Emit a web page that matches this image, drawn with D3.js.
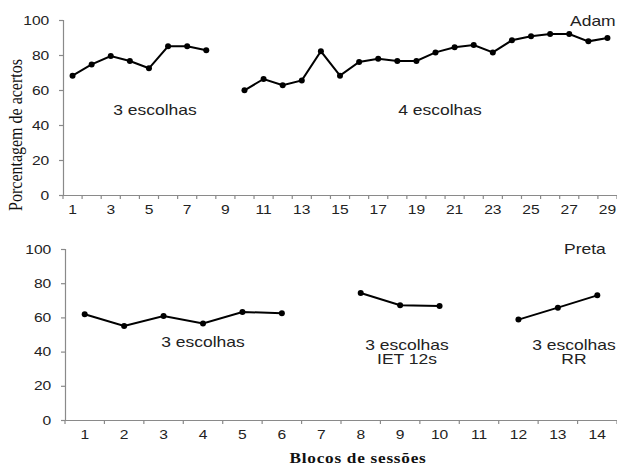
<!DOCTYPE html>
<html><head><meta charset="utf-8">
<script src="https://cdn.jsdelivr.net/npm/d3@7"></script>
<style>body{margin:0;background:#fff}svg{display:block}</style>
</head><body>
<script>
// Top panel (Adam)
const adamBlocks = d3.range(1, 30);
const adamSeg1 = [[1,68.2],[2,74.6],[3,79.4],[4,76.6],[5,72.4],[6,85],[7,85],[8,82.7]];
const adamSeg2 = [[10,59.8],[11,66.3],[12,62.7],[13,65.5],[14,82.1],[15,68.2],[16,76],[17,77.9],[18,76.6],[19,76.6],[20,81.5],[21,84.4],[22,85.7],[23,81.5],[24,88.4],[25,90.7],[26,92],[27,92],[28,87.8],[29,89.7]];
const adamTickLabels = [1,3,5,7,9,11,13,15,17,19,21,23,25,27,29];
// Bottom panel (Preta)
const pretaBlocks = d3.range(1, 15);
const pretaSeg1 = [[1,61.8],[2,55],[3,60.8],[4,56.5],[5,63.2],[6,62.4]];
const pretaSeg2 = [[8,74.3],[9,67.1],[10,66.7]];
const pretaSeg3 = [[12,58.7],[13,65.7],[14,72.9]];
const yTicks = [0,20,40,60,80,100];

const W = 617, H = 466;
const SX = 1.25; // horizontal stretch of the source text
const SANS = "Liberation Sans, Arial, sans-serif";
const svg = d3.select("body").append("svg").attr("width", W).attr("height", H);

function panel(opts){
  const x = d3.scaleBand().domain(opts.blocks).range([opts.x0, opts.x1]).paddingInner(0).paddingOuter(0);
  const y = d3.scaleLinear().domain([0,100]).range([opts.yb, opts.yt]);
  const g = svg.append("g");
  // x axis
  const xa = g.append("g").attr("transform", `translate(0,${opts.yb})`)
    .call(d3.axisBottom(x).tickSize(0).tickPadding(6).tickFormat(d => opts.labels.includes(d) ? d : ""));
  xa.select(".domain").attr("stroke", "#8a8a8a").attr("stroke-width", 1.2);
  xa.selectAll("text").attr("font-family", SANS).attr("font-size", 12.5).attr("fill", "#222")
    .attr("dy", "1.05em").attr("transform", `scale(${SX},1)`);
  // band boundary ticks
  const bounds = opts.blocks.map(b => x(b)).concat([opts.x1]);
  g.selectAll(".bt").data(bounds).join("line")
    .attr("x1", d => d).attr("x2", d => d).attr("y1", opts.yb).attr("y2", opts.yb + 4)
    .attr("stroke", "#8a8a8a").attr("stroke-width", 1.2);
  // y axis
  const ya = g.append("g").attr("transform", `translate(${opts.x0},0)`)
    .call(d3.axisLeft(y).tickValues(yTicks).tickSize(4).tickPadding(7));
  ya.select(".domain").attr("stroke", "#8a8a8a").attr("stroke-width", 1.2);
  ya.selectAll("line").attr("stroke", "#8a8a8a").attr("stroke-width", 1.2);
  ya.selectAll("text").attr("font-family", SANS).attr("font-size", 12.5).attr("fill", "#222")
    .attr("transform", `scale(${SX},1)`);
  // lines
  const cx = d => x(d[0]) + x.bandwidth()/2;
  const line = d3.line().x(cx).y(d => y(d[1]));
  opts.segs.forEach(seg => {
    g.append("path").datum(seg).attr("d", line).attr("fill", "none").attr("stroke", "#000").attr("stroke-width", 2);
    g.selectAll(null).data(seg).join("circle").attr("cx", cx).attr("cy", d => y(d[1])).attr("r", 3).attr("fill", "#000");
  });
  // annotations
  opts.notes.forEach(n => {
    const t = g.append("text").attr("transform", `translate(${n.x},${n.y}) scale(${SX},1)`)
      .attr("text-anchor", n.anchor || "middle")
      .attr("font-family", SANS).attr("font-size", 14).attr("fill", "#222");
    n.lines.forEach((l, i) => t.append("tspan").attr("x", 0).attr("dy", i ? 14 : 0).text(l));
  });
  return {x, y};
}

panel({blocks: adamBlocks, x0: 63, x1: 617, yb: 195, yt: 20, labels: adamTickLabels,
  segs: [adamSeg1, adamSeg2],
  notes: [
    {x: 155, y: 115, lines: ["3 escolhas"]},
    {x: 440, y: 115, lines: ["4 escolhas"]},
    {x: 570, y: 26, anchor: "start", lines: ["Adam"]}
  ]});

panel({blocks: pretaBlocks, x0: 65, x1: 617, yb: 420, yt: 249, labels: pretaBlocks,
  segs: [pretaSeg1, pretaSeg2, pretaSeg3],
  notes: [
    {x: 203, y: 347, lines: ["3 escolhas"]},
    {x: 407, y: 350, lines: ["3 escolhas", "IET 12s"]},
    {x: 574, y: 350, lines: ["3 escolhas", "RR"]},
    {x: 564, y: 254, anchor: "start", lines: ["Preta"]}
  ]});

svg.append("text").attr("transform", "translate(22,135) rotate(-90) scale(1,1.2)").attr("text-anchor", "middle")
  .attr("font-family", "Liberation Serif, Times New Roman, serif").attr("font-size", 16).attr("fill", "#111")
  .text("Porcentagem de acertos");
svg.append("text").attr("transform", `translate(358,463) scale(1.23,1)`).attr("text-anchor", "middle")
  .attr("font-family", "Liberation Serif, Times New Roman, serif").attr("font-size", 14).attr("font-weight", "bold").attr("letter-spacing", 0.6).attr("fill", "#111")
  .text("Blocos de sessões");
</script>
</body></html>
